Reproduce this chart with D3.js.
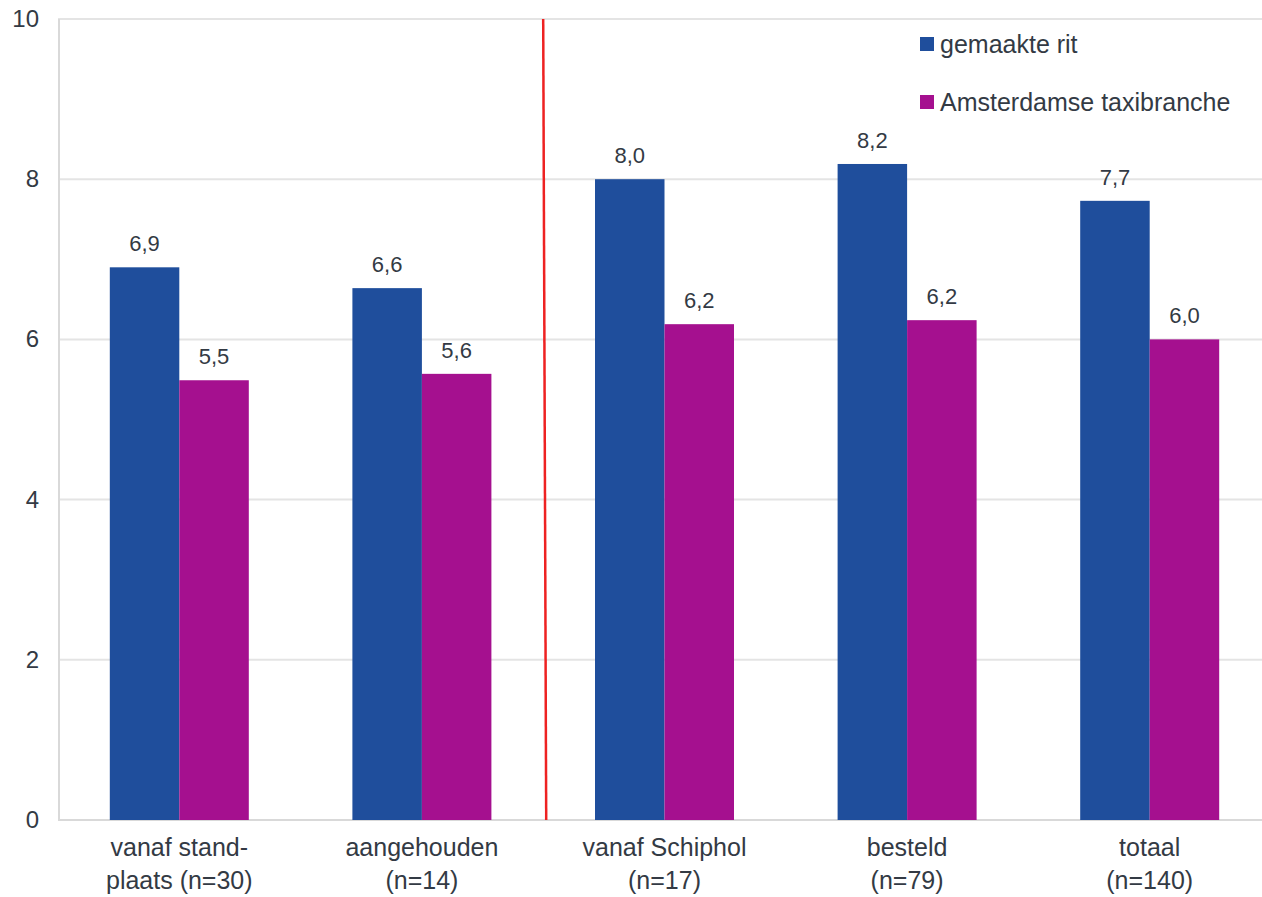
<!DOCTYPE html>
<html><head><meta charset="utf-8">
<script src="https://cdn.jsdelivr.net/npm/d3@7"></script>
<style>body{margin:0;background:#fff}text{font-family:"Liberation Sans",Arial,sans-serif;fill:#333a44}</style>
</head><body><svg id="c" width="1262" height="897"></svg>
<script>
const categories = [["vanaf stand-","plaats (n=30)"],["aangehouden","(n=14)"],["vanaf Schiphol","(n=17)"],["besteld","(n=79)"],["totaal","(n=140)"]];
const seriesNames = ["gemaakte rit","Amsterdamse taxibranche"];
const ritValues = [6.9, 6.64, 8.0, 8.19, 7.73];
const brancheValues = [5.49, 5.57, 6.19, 6.24, 6.0];
const ritLabels = ["6,9","6,6","8,0","8,2","7,7"];
const brancheLabels = ["5,5","5,6","6,2","6,2","6,0"];
const yTicks = [0,2,4,6,8,10];
const colors = ["#1f4e9c","#a5108f"];

const svg = d3.select("#c");
const x0 = d3.scaleBand().domain(d3.range(5)).range([58,1271]).paddingInner(0).paddingOuter(0);
const x1 = d3.scaleBand().domain([0,1]).range([0, 139]);
const y = d3.scaleLinear().domain([0,10]).range([820,19]);

// grid
svg.append("g").selectAll("line").data(yTicks.filter(d=>d>0)).join("line")
 .attr("x1",58).attr("x2",1262).attr("y1",d=>y(d)).attr("y2",d=>y(d))
 .attr("stroke","#e4e4e4").attr("stroke-width",2);
// axes lines
svg.append("line").attr("x1",58).attr("x2",1262).attr("y1",y(0)).attr("y2",y(0)).attr("stroke","#d9d9d9").attr("stroke-width",2);
svg.append("line").attr("x1",59).attr("x2",59).attr("y1",y(10)).attr("y2",y(0)).attr("stroke","#d9d9d9").attr("stroke-width",2);
// y tick labels
svg.append("g").selectAll("text").data(yTicks).join("text")
 .attr("x",39).attr("y",d=>y(d)+8).attr("text-anchor","end").style("font-size","24px").text(d=>d);

const series = [ritValues, brancheValues];
const labels = [ritLabels, brancheLabels];
series.forEach((vals,s)=>{
  const off = (x0.bandwidth()-139)/2;
  svg.append("g").selectAll("rect").data(vals).join("rect")
   .attr("x",(d,i)=>x0(i)+off+x1(s)).attr("width",x1.bandwidth())
   .attr("y",d=>y(d)).attr("height",d=>y(0)-y(d)).attr("fill",colors[s]);
  svg.append("g").selectAll("text").data(vals).join("text")
   .attr("x",(d,i)=>x0(i)+off+x1(s)+x1.bandwidth()/2).attr("y",d=>y(d)-16)
   .attr("text-anchor","middle").style("font-size","22px").text((d,i)=>labels[s][i]);
});

// red divider
svg.append("line").attr("x1",x0(2)).attr("x2",x0(2)+3).attr("y1",y(10)).attr("y2",y(0)).attr("stroke","#ee2222").attr("stroke-width",2.5);

// category labels
const cl = svg.append("g").selectAll("text").data(categories).join("text")
 .attr("text-anchor","middle").style("font-size","25px");
cl.each(function(d,i){
  const t=d3.select(this);
  d.forEach((line,k)=>t.append("tspan").attr("x",x0(i)+x0.bandwidth()/2).attr("y",856+k*33).text(line));
});

// legend
const lg = svg.append("g");
seriesNames.forEach((n,i)=>{
  lg.append("rect").attr("x",920).attr("y",37+i*58).attr("width",14).attr("height",14).attr("fill",colors[i]);
  lg.append("text").attr("x",940).attr("y",53+i*58).style("font-size","25px").text(n);
});
</script></body></html>
